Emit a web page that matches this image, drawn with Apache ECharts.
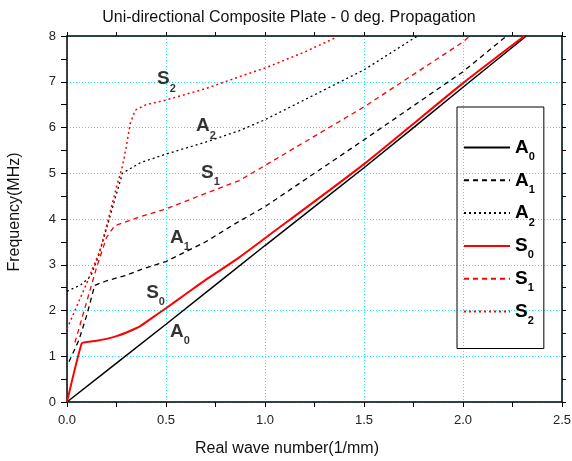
<!DOCTYPE html>
<html>
<head>
<meta charset="utf-8">
<script src="https://cdn.jsdelivr.net/npm/echarts@6/dist/echarts.min.js"></script>
<style>
  html, body { margin: 0; padding: 0; background: #fff; }
  #chart { width: 572px; height: 461px; }
</style>
</head>
<body>
<div id="chart"></div>
<script>
// dispersion curves, [wave number (1/mm), frequency (MHz)]
const a0 = [[0, 0], [0.5, 1.70], [1.0, 3.42], [1.5, 5.12], [2.0, 6.88], [2.32, 8.0]]
const a1 = [[0.01, 0.88], [0.06, 1.35], [0.1, 1.9], [0.14, 2.55], [0.2, 2.65], [0.3, 2.77],
  [0.37, 2.89], [0.5, 3.07], [0.7, 3.5], [0.85, 3.9], [1.0, 4.27], [1.5, 5.73], [2.0, 7.22], [2.22, 8.0]]
const a2 = [[0, 2.42], [0.07, 2.56], [0.12, 2.75], [0.16, 3.2], [0.22, 4.1], [0.28, 5.0],
  [0.37, 5.23], [0.5, 5.42], [0.7, 5.68], [0.87, 5.93], [1.0, 6.17], [1.5, 7.26], [1.77, 8.0]]
const s0 = [[0, 0], [0.074, 1.28], [0.1, 1.31], [0.15, 1.34], [0.2, 1.38], [0.25, 1.44],
  [0.3, 1.52], [0.37, 1.66], [0.43, 1.84], [0.5, 2.05], [0.6, 2.36], [0.7, 2.67],
  [0.85, 3.1], [1.0, 3.58], [1.5, 5.2], [2.0, 6.97], [2.31, 8.0]]
const s1 = [[0.04, 1.3], [0.1, 2.2], [0.15, 2.95], [0.2, 3.6], [0.24, 3.85], [0.37, 4.05],
  [0.5, 4.22], [0.7, 4.56], [0.87, 4.84], [1.0, 5.17], [1.5, 6.45], [2.0, 7.87], [2.035, 8.0]]
const s2 = [[0, 1.6], [0.05, 2.1], [0.1, 2.6], [0.167, 3.32], [0.2, 3.85], [0.25, 4.7],
  [0.28, 5.15], [0.3, 5.6], [0.32, 6.1], [0.345, 6.38], [0.4, 6.5], [0.5, 6.6], [0.7, 6.85],
  [0.87, 7.11], [1.0, 7.3], [1.2, 7.65], [1.36, 7.97]]

const modeNames = ['A0', 'A1', 'A2', 'S0', 'S1', 'S2']
// curve labels inside the plot: [x, y, name]
const curveLabels = [[0.455, 7.06, 'S2'], [0.652, 6.03, 'A2'], [0.677, 5.02, 'S1'],
  [0.52, 3.6, 'A1'], [0.40, 2.39, 'S0'], [0.52, 1.54, 'A0']]

const FONT = '"Liberation Sans", Arial, sans-serif'

const sub = {
  m: { fontSize: 19, fontWeight: 'bold', color: '#000', fontFamily: FONT, lineHeight: 22 },
  s: { fontSize: 11, fontWeight: 'bold', color: '#000', fontFamily: FONT, verticalAlign: 'bottom', lineHeight: 30 }
}
function subText(name) {
  return '{m|' + name[0] + '}{s|' + name.slice(1) + '}'
}

function lineSeries(name, data, color, type, width, smooth) {
  return {
    name: name,
    type: 'line',
    data: data,
    symbol: 'none',
    smooth: smooth || false,
    lineStyle: { color: color, width: width, type: type },
    itemStyle: { color: color },
    z: 3
  }
}

const chart = echarts.init(document.getElementById('chart'), null, { renderer: 'canvas' })

const cyanGrid = { show: true, lineStyle: { color: '#00ffff', type: [1, 2], width: 1 } }

chart.setOption({
  animation: false,
  backgroundColor: '#fff',
  title: {
    text: 'Uni-directional Composite Plate - 0 deg. Propagation',
    left: 284, top: 5, textAlign: 'center',
    textStyle: { fontSize: 16, fontWeight: 'normal', color: '#111', fontFamily: FONT }
  },
  grid: { left: 67, right: 10, top: 36, bottom: 59, outerBoundsMode: 'none', containLabel: false },
  legend: {
    data: modeNames,
    orient: 'vertical',
    left: 457, top: 107,
    padding: [31, 9, 22, 6],
    borderColor: '#000', borderWidth: 1,
    itemWidth: 46, itemHeight: 10, itemGap: 8.3,
    selectedMode: false,
    itemStyle: { color: 'rgba(0,0,0,0)', borderWidth: 0 },
    formatter: subText,
    textStyle: { rich: sub }
  },
  xAxis: [
    {
      type: 'value', min: 0, max: 2.5, interval: 0.5,
      axisLine: { onZero: false, lineStyle: { color: '#000', width: 1.5 } },
      axisTick: { inside: false, length: 5, lineStyle: { color: '#000' } },
      minorTick: { show: true, splitNumber: 2, length: 5, lineStyle: { color: '#000' } },
      axisLabel: { fontSize: 13, color: '#222', fontFamily: FONT, margin: 12, formatter: v => v.toFixed(1) },
      splitLine: cyanGrid,
      name: 'Real wave number(1/mm)', nameLocation: 'middle', nameGap: 39,
      nameTextStyle: { fontSize: 16, color: '#111', fontFamily: FONT, padding: [0, 55, 0, 0] }
    },
    {
      type: 'value', min: 0, max: 2.5, interval: 0.5, position: 'top',
      axisLine: { show: true, onZero: false, lineStyle: { color: '#000', width: 1.5 } },
      axisTick: { show: true, length: 4, lineStyle: { color: '#000' } },
      minorTick: { show: true, splitNumber: 2, length: 4, lineStyle: { color: '#000' } },
      axisLabel: { show: false }, splitLine: { show: false }
    }
  ],
  yAxis: [
    {
      type: 'value', min: 0, max: 8, interval: 1,
      axisLine: { show: true, onZero: false, lineStyle: { color: '#000', width: 1.5 } },
      axisTick: { show: true, length: 6, lineStyle: { color: '#000' } },
      minorTick: { show: true, splitNumber: 2, length: 6, lineStyle: { color: '#000' } },
      axisLabel: { fontSize: 13, color: '#222', fontFamily: FONT, margin: 11 },
      splitLine: cyanGrid,
      name: 'Frequency(MHz)', nameLocation: 'middle', nameGap: 44,
      nameTextStyle: { fontSize: 16, color: '#111', fontFamily: FONT, padding: [0, 0, 0, 14] }
    },
    {
      type: 'value', min: 0, max: 8, interval: 1, position: 'right',
      axisLine: { show: true, onZero: false, lineStyle: { color: '#000', width: 1.5 } },
      axisTick: { show: true, length: 4, lineStyle: { color: '#000' } },
      minorTick: { show: true, splitNumber: 2, length: 4, lineStyle: { color: '#000' } },
      axisLabel: { show: false }, splitLine: { show: false }
    }
  ],
  series: [
    lineSeries('A0', a0, '#000', 'solid', 1.5, 0.2),
    lineSeries('A1', a1, '#000', [5, 4], 1.3),
    lineSeries('A2', a2, '#000', [2, 3], 1.3),
    lineSeries('S0', s0, '#ff0000', 'solid', 2, 0.2),
    lineSeries('S1', s1, '#ff0000', [5, 4], 1.3),
    lineSeries('S2', s2, '#ff0000', [2, 3], 1.5),
    {
      name: 'labels',
      type: 'scatter',
      data: curveLabels,
      symbolSize: 0,
      silent: true,
      z: 5,
      label: {
        show: true,
        position: 'right',
        distance: 0,
        formatter: p => subText(p.data[2]),
        rich: sub
      }
    }
  ]
})
</script>
</body>
</html>
